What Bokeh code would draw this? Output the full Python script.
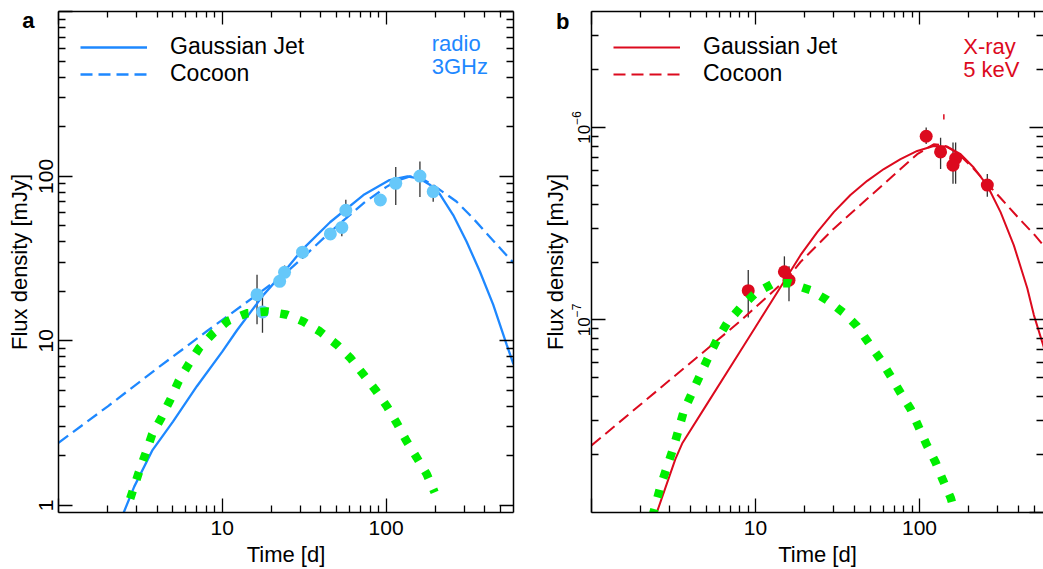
import math
from bokeh.plotting import figure
from bokeh.models import FixedTicker, LogAxis, Legend, LegendItem, Label
from bokeh.layouts import row
from bokeh.embed import file_html
from bokeh.resources import INLINE

FONT = "Liberation Sans"
BLUE = "#1E88FF"
BLUE_PT = "#66C8FA"
RED = "#DC0A1E"
GREEN = "#00EE00"
ERR = "#333333"

# ---------------- ticks ----------------
x_major = [1, 10, 100]
x_minor = [2, 3, 4, 5, 6, 7, 8, 9, 20, 30, 40, 50, 60, 70, 80, 90, 200, 300, 400, 500]
x_labels = {1: " ", 10: "10", 100: "100"}

ya_major = [1, 10, 100, 1000]
ya_minor = [2, 3, 4, 5, 6, 7, 8, 9, 20, 30, 40, 50, 60, 70, 80, 90,
            200, 300, 400, 500, 600, 700, 800, 900]
ya_labels = {1: "1", 10: "10", 100: "100", 1000: " "}

yb_major = [1e-8, 1e-7, 1e-6]
yb_labelled = [1e-7, 1e-6]          # shown as 10^-7, 10^-6 by the log formatter
yb_minor = [2e-8, 3e-8, 4e-8, 5e-8, 6e-8, 7e-8, 8e-8, 9e-8,
            2e-7, 3e-7, 4e-7, 5e-7, 6e-7, 7e-7, 8e-7, 9e-7, 2e-6, 3e-6]

# panel letters (carried as a one-tick label on an outer left axis)
panel_a_letter = {889: "a"}
panel_b_letter = {3.53e-6: "b"}

# ---------------- panel a : radio 3 GHz ----------------
radio_t = [16.3, 17.6, 22.4, 24.0, 30.9, 45.7, 53.7, 56.8, 92.3, 114.6, 161, 194]
radio_f = [19.1, 15.0, 23.0, 26.1, 34.6, 44.7, 48.9, 62.2, 71.8, 90.7, 100.4, 80.8]
radio_lo = [12.6, 11.2, 21.5, 24.5, 31.5, 43.0, 43.3, 57.0, 71.8, 67.0, 75.0, 70.0]
radio_hi = [25.2, 18.7, 24.5, 28.7, 37.5, 46.5, 53.3, 72.0, 71.8, 114.0, 123.0, 88.9]

jet_a_t = [2.45, 2.9, 3.73, 5.0, 7.0, 10.0, 12.3, 17.9, 24.0, 30.9, 45.5, 72.7, 105,
           135, 160, 185, 213, 257, 310, 374, 451, 545, 600]
jet_a_f = [0.86, 1.3, 2.15, 3.23, 5.3, 8.6, 11.6, 19.1, 26.5, 36.0, 52.6, 77.0, 95.0,
           100.0, 97.0, 89.0, 78.0, 58.2, 40.2, 26.4, 16.6, 9.5, 7.2]

coc_a_t = [1, 2, 4, 8, 16.3, 20, 24, 30.9, 45.7, 72.7, 100, 116, 140, 165, 194,
           269, 340, 410, 497, 600]
coc_a_f = [2.4, 4.0, 6.8, 11.4, 19.1, 22.2, 25.5, 32.0, 46.0, 68.6, 86.0, 94.0, 100.0,
           97.0, 88.5, 70.3, 55.6, 45.1, 36.6, 29.8]

grn_a_t = [2.74, 3.09, 3.39, 3.73, 4.25, 4.82, 5.42, 6.23, 7.24, 8.86, 10.8, 14.1,
           18.8, 24.9, 31.3, 39.5, 50, 60.3, 72.7, 85.8, 101, 116, 133, 154, 177, 198]
grn_a_f = [1.1, 1.58, 2.05, 2.7, 3.41, 4.4, 5.7, 7.2, 9.07, 11.2, 13.2, 14.7,
           15.1, 14.4, 13.1, 11.4, 9.5, 7.9, 6.25, 5.06, 4.01, 3.18, 2.47, 1.95, 1.55, 1.2]

# ---------------- panel b : X-ray 5 keV ----------------
xr_t = [9.03, 15.0, 16.0, 109.8, 134.4, 166, 160, 259]
xr_f = [1.42e-7, 1.78e-7, 1.61e-7, 9.0e-7, 7.46e-7, 6.9e-7, 6.37e-7, 5.02e-7]
xr_lo = [1.03e-7, 1.5e-7, 1.25e-7, 8.2e-7, 6.08e-7, 5.1e-7, 5.1e-7, 4.36e-7]
xr_hi = [1.82e-7, 2.14e-7, 1.9e-7, 1.0e-6, 8.85e-7, 8.34e-7, 8.34e-7, 5.73e-7]

xr_mark_t = [140.7]
xr_mark_lo = [1.10e-6]
xr_mark_hi = [1.17e-6]

jet_b_t = [2.45, 3.25, 3.57, 5.0, 8.0, 10.0, 14.9, 18.8, 23.8, 30.0, 37.9, 48.0, 60.6,
           76.6, 96.8, 122, 147.5, 178, 214, 259, 312, 376, 454, 498, 570, 600]
jet_b_f = [9.5e-9, 1.9e-8, 2.28e-8, 3.6e-8, 6.8e-8, 9.2e-8, 1.58e-7, 2.17e-7, 2.86e-7,
           3.63e-7, 4.46e-7, 5.28e-7, 6.08e-7, 6.84e-7, 7.55e-7, 8.0e-7, 7.95e-7, 7.26e-7,
           6.19e-7, 4.99e-7, 3.63e-7, 2.44e-7, 1.46e-7, 1.06e-7, 7.3e-8, 6.2e-8]

coc_b_t = [1, 2, 4.62, 8, 15.6, 18.8, 30, 48, 60.6, 76.6, 96.8, 122, 140, 160, 178,
           214, 259, 312, 400, 500, 570, 600]
coc_b_f = [2.23e-8, 3.65e-8, 6.62e-8, 9.8e-8, 1.64e-7, 2.0e-7, 2.98e-7, 4.26e-7, 5.08e-7,
           6.08e-7, 7.26e-7, 8.17e-7, 8.1e-7, 7.6e-7, 7.1e-7, 6.1e-7, 5.1e-7, 4.3e-7,
           3.4e-7, 2.78e-7, 2.44e-7, 2.33e-7]

grn_b_t = [2.35, 2.63, 2.89, 3.17, 3.66, 4.11, 4.62, 5.2, 5.83, 6.72, 8.1, 10, 12.9,
           16.3, 21.6, 27.3, 34.4, 41.5, 49, 57.8, 66.6, 76.4, 88.2, 99, 111, 125, 139,
           155, 172]
grn_b_f = [9.5e-9, 1.36e-8, 1.73e-8, 2.19e-8, 3.38e-8, 4.2e-8, 5.22e-8, 6.5e-8, 7.9e-8,
           9.66e-8, 1.16e-7, 1.38e-7, 1.55e-7, 1.55e-7, 1.43e-7, 1.27e-7, 1.09e-7, 9.3e-8,
           7.6e-8, 6.24e-8, 5.12e-8, 4.2e-8, 3.45e-8, 2.77e-8, 2.23e-8, 1.83e-8, 1.47e-8,
           1.19e-8, 8.8e-9]


def style_axis(ax, labels=True, label_size="21px"):
    ax.axis_line_color = "black"
    ax.axis_line_width = 1.5
    ax.major_tick_in = 14
    ax.major_tick_out = 0
    ax.minor_tick_in = 7
    ax.minor_tick_out = 0
    ax.major_tick_line_color = "black"
    ax.minor_tick_line_color = "black"
    ax.major_tick_line_width = 1.3
    ax.minor_tick_line_width = 1.3
    ax.major_label_text_font = FONT
    ax.major_label_text_color = "black"
    ax.axis_label_text_font = FONT
    ax.axis_label_text_font_style = "normal"
    ax.axis_label_text_font_size = "22px"
    ax.axis_label_text_color = "black"
    if labels:
        ax.major_label_text_font_size = label_size
    else:
        ax.major_label_text_font_size = "1px"
        ax.major_label_text_alpha = 0
        ax.major_label_standoff = 0
        ax.axis_label_standoff = 0


def make_panel(width, border_left, border_right, x_end, y_range, y_major, y_minor,
               y_labels, y_label_ticks, y_label_size, y_label_standoff, letter,
               letter_standoff, label_standoff, hide_right_line=False):
    p = figure(width=width, height=569, x_axis_type="log", y_axis_type="log",
               x_range=(1, x_end), y_range=y_range, output_backend="svg",
               toolbar_location=None, min_border_left=border_left,
               min_border_right=border_right, min_border_top=11, min_border_bottom=54,
               outline_line_color=None, background_fill_color="white",
               border_fill_color="white")
    p.xgrid.visible = False
    p.ygrid.visible = False

    xb = p.xaxis[0]
    xb.ticker = FixedTicker(ticks=x_major, minor_ticks=x_minor)
    xb.major_label_overrides = x_labels
    xb.axis_label = "Time [d]"
    style_axis(xb)
    xb.major_label_standoff = 3
    xb.axis_label_standoff = 0

    yl = p.yaxis[0]
    yl.ticker = FixedTicker(ticks=y_label_ticks, minor_ticks=y_minor)
    if y_labels is not None:
        yl.major_label_overrides = y_labels
    style_axis(yl, label_size=y_label_size)
    yl.major_label_orientation = "vertical"
    yl.major_label_standoff = y_label_standoff

    # outer left axis: carries the panel letter and the y-axis title
    outer = LogAxis(ticker=FixedTicker(ticks=list(letter.keys()), minor_ticks=[]))
    style_axis(outer, label_size="22px")
    outer.major_label_overrides = letter
    outer.major_label_orientation = "horizontal"
    outer.major_label_text_font_style = "bold"
    outer.major_label_standoff = letter_standoff
    outer.axis_line_color = None
    outer.major_tick_line_color = None
    outer.minor_tick_line_color = None
    outer.major_tick_in = 0
    outer.minor_tick_in = 0
    outer.axis_label = "Flux density [mJy]"
    outer.axis_label_standoff = label_standoff
    p.add_layout(outer, "left")

    top = LogAxis(ticker=FixedTicker(ticks=x_major, minor_ticks=x_minor))
    style_axis(top, labels=False)
    top.major_tick_in = 13
    top.minor_tick_in = 6
    p.add_layout(top, "above")

    right = LogAxis(ticker=FixedTicker(ticks=y_major, minor_ticks=y_minor))
    style_axis(right, labels=False)
    if hide_right_line:
        right.axis_line_color = None
    p.add_layout(right, "right")
    return p


def add_legend(p, r_jet, r_coc):
    leg = Legend(items=[LegendItem(label="Gaussian Jet", renderers=[r_jet]),
                        LegendItem(label="Cocoon", renderers=[r_coc])],
                 location="top_left", margin=22, padding=0, spacing=0,
                 glyph_width=67, glyph_height=24, label_height=24, label_standoff=23,
                 label_text_font=FONT, label_text_font_size="23px",
                 label_text_color="black",
                 border_line_color=None, background_fill_alpha=0)
    p.add_layout(leg)


# ================= panel a =================
pa = make_panel(520, 58, 7, 600, (0.905, 1005), ya_major, ya_minor, ya_labels,
                ya_major, "21px", 1, panel_a_letter, -3, -13)
pa.segment(x0=radio_t, y0=radio_lo, x1=radio_t, y1=radio_hi, line_color=ERR,
           line_width=1.3)
ra_jet = pa.line(jet_a_t, jet_a_f, line_color=BLUE, line_width=2.3)
ra_coc = pa.line(coc_a_t, coc_a_f, line_color=BLUE, line_width=2.3, line_dash="12 6")
pa.scatter(radio_t, radio_f, size=13, fill_color=BLUE_PT, line_color=None)
pa.line(grn_a_t, grn_a_f, line_color=GREEN, line_width=8.5, line_dash="8 12",
        line_cap="butt")
add_legend(pa, ra_jet, ra_coc)
pa.add_layout(Label(x=190, y=640, text="radio", text_color=BLUE, text_font=FONT,
                    text_font_size="22px", text_baseline="alphabetic"))
pa.add_layout(Label(x=190, y=464, text="3GHz", text_color=BLUE, text_font=FONT,
                    text_font_size="22px", text_baseline="alphabetic"))

# ================= panel b =================
pb = make_panel(523, 71, 0, 570, (1e-8, 4e-6), yb_major, yb_minor, None, yb_labelled,
                "17px", 2, panel_b_letter, -1, -15, hide_right_line=True)
pb.segment(x0=xr_t, y0=xr_lo, x1=xr_t, y1=xr_hi, line_color=ERR, line_width=1.3)
pb.segment(x0=xr_mark_t, y0=xr_mark_lo, x1=xr_mark_t, y1=xr_mark_hi,
           line_color=RED, line_width=1.5)
rb_jet = pb.line(jet_b_t, jet_b_f, line_color=RED, line_width=2.0)
rb_coc = pb.line(coc_b_t, coc_b_f, line_color=RED, line_width=2.0, line_dash="12 6")
pb.scatter(xr_t, xr_f, size=13, fill_color=RED, line_color=None)
pb.line(grn_b_t, grn_b_f, line_color=GREEN, line_width=8.5, line_dash="8 12",
        line_cap="butt")
add_legend(pb, rb_jet, rb_coc)
pb.add_layout(Label(x=184.7, y=2.62e-6, text="X-ray", text_color=RED, text_font=FONT,
                    text_font_size="22px", text_baseline="alphabetic"))
pb.add_layout(Label(x=184.7, y=2.01e-6, text="5 keV", text_color=RED, text_font=FONT,
                    text_font_size="22px", text_baseline="alphabetic"))

layout = row(pa, pb)
open("out.html", "w").write(file_html(layout, INLINE))
